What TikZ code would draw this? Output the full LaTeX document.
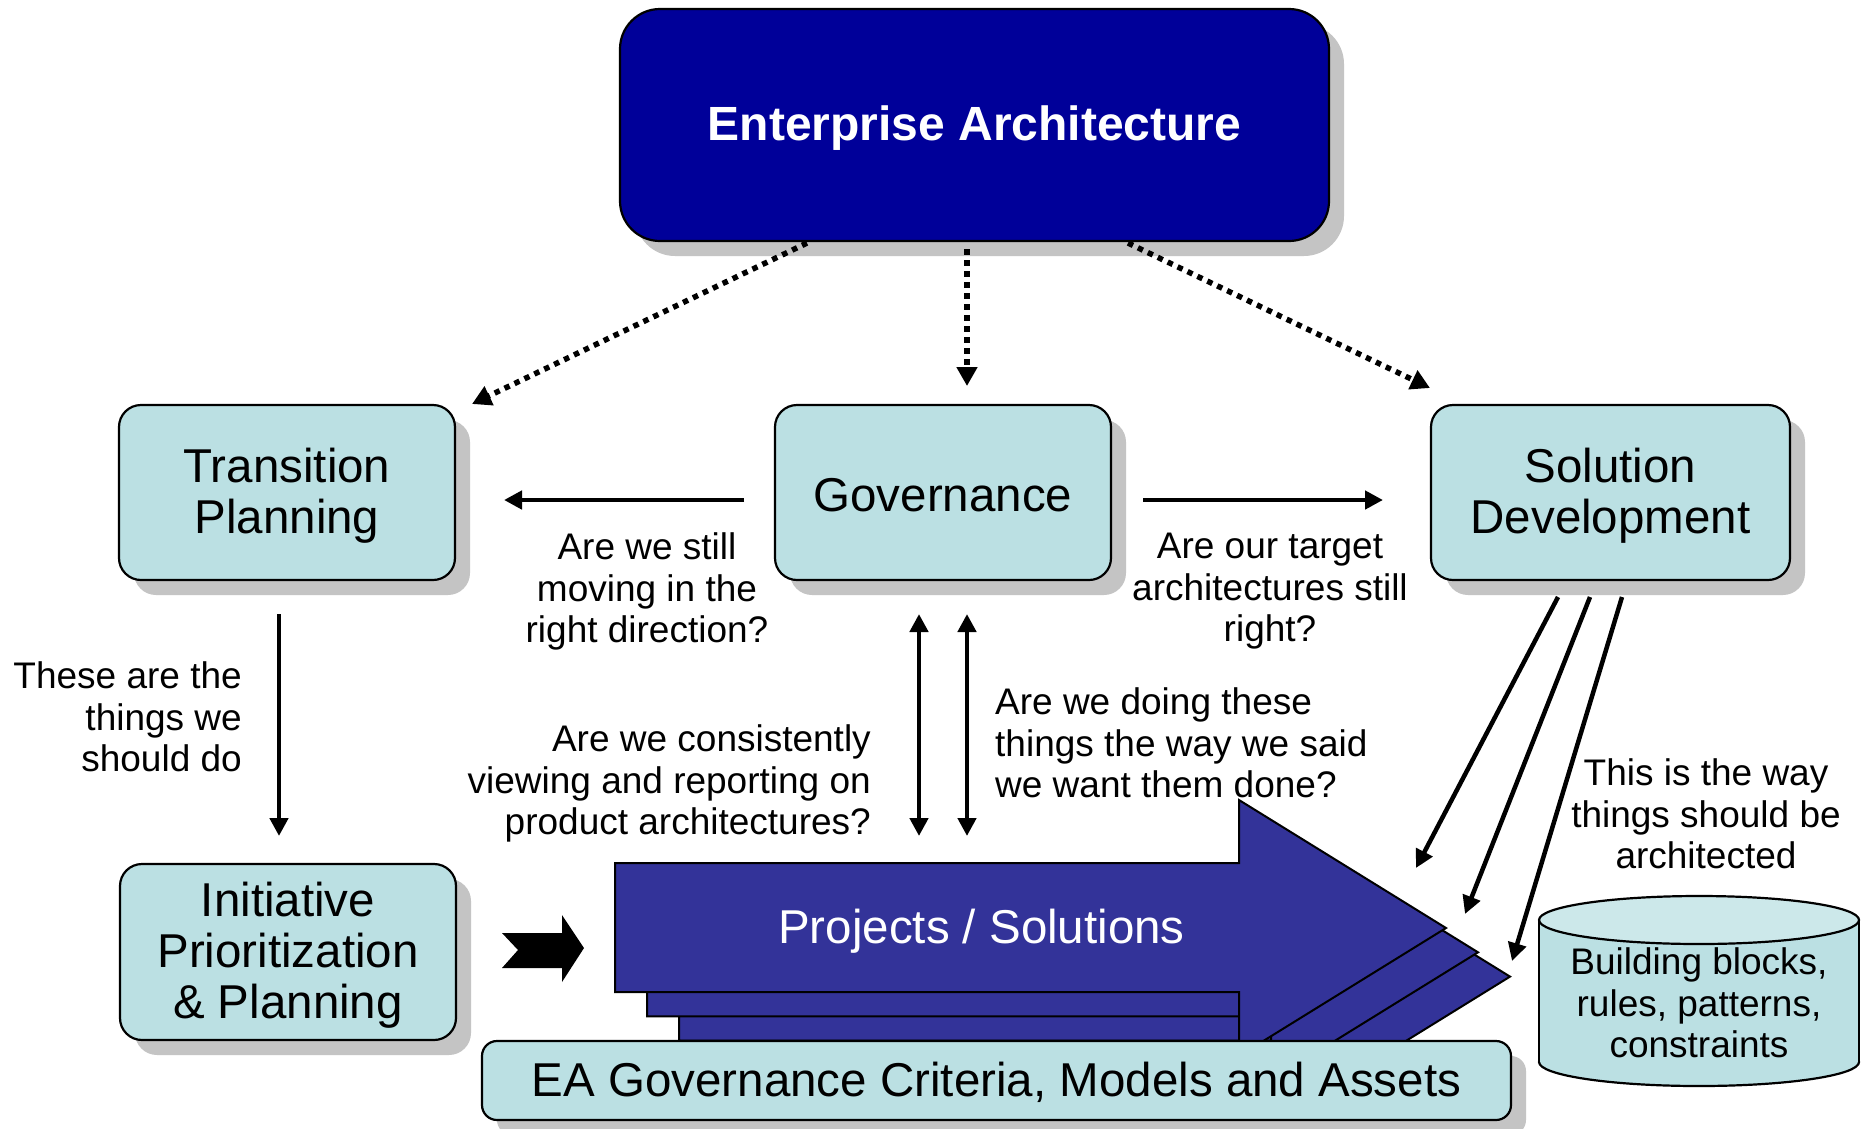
\documentclass[tikz,border=0pt]{standalone}
\usepackage{fontspec}
\setmainfont{Liberation Sans}
\usetikzlibrary{arrows.meta,shadows}
\definecolor{eablue}{HTML}{000099}
\definecolor{projblue}{HTML}{333399}
\definecolor{lightbox}{HTML}{BBE0E3}
\definecolor{shadowgray}{HTML}{C4C4C4}
\begin{document}
\begin{tikzpicture}[x=1pt,y=-1pt,
  box/.style={draw=black, line width=2.2pt, fill=lightbox, rounded corners=22pt, align=center,
    font=\fontsize{47.5}{51}\selectfont, inner sep=0pt,
    drop shadow={shadow xshift=15pt, shadow yshift=-15pt, fill=shadowgray, opacity=1}},
  boxtext/.style={align=center, font=\fontsize{47.5}{51}\selectfont, inner sep=0pt},
  lbl/.style={font=\fontsize{37}{41.5}\selectfont, inner sep=0pt},
  arr/.style={line width=4.5pt, -{Triangle[width=18pt,length=18pt]}},
  dblarr/.style={line width=4.5pt, {Triangle[width=18pt,length=18pt]}-{Triangle[width=18pt,length=18pt]}},
  dotarr/.style={line width=5.5pt, dash pattern=on 5.5pt off 5.5pt, -{Triangle[width=20pt,length=19pt]}}]
\useasboundingbox (0,0) rectangle (1861,1128);
\fill[white] (0,0) rectangle (1861,1128);

% top box
\node[box, fill=eablue, rounded corners=40pt,
  minimum width=709pt, minimum height=232pt] (ea) at (974.5,125) {};
\node[boxtext, text=white, font=\bfseries\fontsize{48}{52}\selectfont] (eat) at ([yshift=-3.5pt]ea.center) {Enterprise Architecture};

% middle row
\node[box, minimum width=336pt, minimum height=175pt] (tp) at (287,492.5) {};
\node[boxtext] (tpt) at ([yshift=-3.5pt]tp.center) {Transition\\Planning};
\node[box, minimum width=336pt, minimum height=175pt] (gov) at (943,492.5) {};
\node[boxtext] (govt) at ([yshift=-3pt]gov.center) {Governance};
\node[box, minimum width=359pt, minimum height=175pt] (sd) at (1610.5,492.5) {};
\node[boxtext] (sdt) at ([yshift=-3.5pt]sd.center) {Solution\\Development};

% lower left box
\node[box, minimum width=336pt, minimum height=176pt] (ipp) at (288,952) {};
\node[boxtext] (ippt) at ([yshift=-3.5pt]ipp.center) {Initiative\\Prioritization\\\& Planning};

% projects stacked arrows
\foreach \k in {2,1,0} {
  \draw[fill=projblue, line width=2pt, shift={(32*\k,24.3*\k)}]
    (615,863) -- (1239,863) -- (1239,800) -- (1446,928) -- (1239,1056) -- (1239,992) -- (615,992) -- cycle;
}
\node[font=\fontsize{47.5}{51}\selectfont, text=white, inner sep=0pt] (proj) at (981.5,931.5) {Projects / Solutions};

% bottom bar
\node[box, rounded corners=15pt, minimum width=1029pt, minimum height=79pt] (bar) at (996.5,1080.5) {};
\node[boxtext] (bart) at ([yshift=-1.5pt]bar.center) {EA Governance Criteria, Models and Assets};

% cylinder
\draw[line width=2.2pt, fill=lightbox] (1699,1062) ellipse [x radius=160, y radius=24];
\fill[lightbox] (1539,920) rectangle (1859,1062);
\draw[line width=2.2pt] (1539,920) -- (1539,1062) (1859,920) -- (1859,1062);
\draw[line width=2.2pt, fill=lightbox!75!white] (1699,920) ellipse [x radius=160, y radius=24];
\node[lbl, align=center] (cyl) at (1699,1003) {Building blocks,\\rules, patterns,\\constraints};

% black block arrow
\fill[black] (502,933) -- (562,933) -- (562,915) -- (584,948) -- (562,982) -- (562,968) -- (502,968) -- (518,950) -- cycle;

% coordinates for connectors
\coordinate (d1s) at (807,243);  \coordinate (d1e) at (472,404);
\coordinate (d2s) at (967,249);  \coordinate (d2e) at (967,386);
\coordinate (d3s) at (1128,243); \coordinate (d3e) at (1430,388);
\coordinate (h1s) at (744,500);  \coordinate (h1e) at (504,500);
\coordinate (h2s) at (1143,500); \coordinate (h2e) at (1383,500);
\coordinate (v0s) at (279,614);  \coordinate (v0e) at (279,836);
\coordinate (v1s) at (919,614);  \coordinate (v1e) at (919,836);
\coordinate (v2s) at (967,614);  \coordinate (v2e) at (967,836);
\coordinate (s1s) at (1558,597); \coordinate (s1e) at (1416,868);
\coordinate (s2s) at (1590,597); \coordinate (s2e) at (1465,914);
\coordinate (s3s) at (1622,597); \coordinate (s3e) at (1512,961);

\draw[dotarr] (d1s) -- (d1e);
\draw[dotarr] (d2s) -- (d2e);
\draw[dotarr] (d3s) -- (d3e);
\draw[arr] (h1s) -- (h1e);
\draw[arr] (h2s) -- (h2e);
\draw[arr] (v0s) -- (v0e);
\draw[dblarr] (v1s) -- (v1e);
\draw[dblarr] (v2s) -- (v2e);
\draw[arr] (s1s) -- (s1e);
\draw[arr] (s2s) -- (s2e);
\draw[arr] (s3s) -- (s3e);

% labels
\node[lbl, anchor=east, align=right] (t1) at (242,717) {These are the\\things we\\should do};
\node[lbl, align=center] (t2) at (647,591.5) {Are we still\\moving in the\\right direction?};
\node[lbl, align=center] (t3) at (1270,591.5) {Are our target\\architectures still\\right?};
\node[lbl, anchor=east, align=right] (t4) at (871,783.5) {Are we consistently\\viewing and reporting on\\product architectures?};
\node[lbl, anchor=west, align=left] (t5) at (995,743) {Are we doing these\\things the way we said\\we want them done?};
\node[lbl, align=center] (t6) at (1706,814) {This is the way\\things should be\\architected};
\end{tikzpicture}
\end{document}
